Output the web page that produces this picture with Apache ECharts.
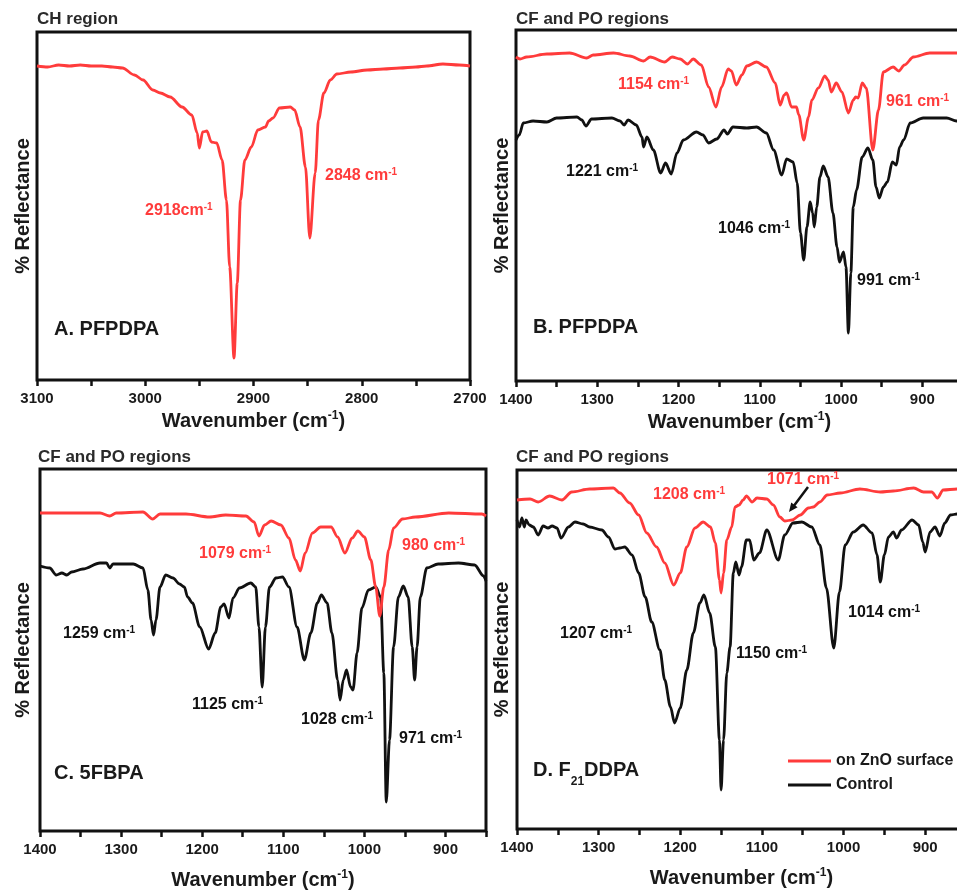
<!DOCTYPE html>
<html>
<head>
<meta charset="utf-8">
<script src="https://cdn.jsdelivr.net/npm/echarts@6/dist/echarts.min.js"></script>
<style>
  html, body { margin: 0; padding: 0; background: #fff; }
  #main { width: 957px; height: 890px; }
</style>
</head>
<body>
<div id="main"></div>
<script>
// spectra (arbitrary reflectance units, higher = more reflectance)

// A. PFPDPA, CH region (on ZnO only)
const aZnOWave = [3100, 3090, 3080, 3070, 3060, 3050, 3040, 3030, 3021, 3010, 3002, 2993, 2986, 2977, 2966, 2957,
  2952, 2950, 2947, 2943, 2939, 2934, 2929, 2925, 2922, 2918, 2915, 2912, 2908, 2902, 2896, 2889,
  2886, 2882, 2876, 2866, 2862, 2857, 2852, 2848, 2843, 2840, 2835, 2829, 2823, 2810, 2795, 2780,
  2765, 2750, 2740, 2725, 2710, 2700];
const aZnO = [314, 313, 315, 314, 315, 314, 314, 313, 312, 305, 300, 290, 287, 283, 273, 265,
  247, 232, 248, 249, 238, 237, 220, 180, 113, 22, 97, 180, 220, 233, 250, 253,
  259, 262, 272, 273, 270, 253, 213, 142, 207, 260, 287, 300, 306, 308, 310, 311,
  312, 313, 314, 316, 315, 314];

// B. PFPDPA, CF and PO regions
const bZnOWave = [1400, 1395, 1387, 1362, 1334, 1313, 1305, 1280, 1260, 1243, 1235, 1217, 1208, 1198, 1189, 1182,
  1172, 1163, 1154, 1147, 1139, 1135, 1129, 1122, 1116, 1104, 1092, 1081, 1075, 1070, 1067, 1061,
  1055, 1052, 1046, 1040, 1036, 1028, 1020, 1016, 1012, 1006, 999, 991, 985, 982, 979, 974,
  969, 961, 954, 948, 936, 929, 922, 911, 891, 858, 850];
const bZnO = [324, 322, 324, 327, 328, 323, 326, 328, 325, 320, 324, 319, 324, 322, 317, 322,
  316, 294, 274, 294, 312, 310, 296, 306, 315, 319, 314, 298, 276, 286, 288, 274,
  274, 266, 241, 264, 281, 293, 305, 301, 289, 298, 289, 268, 281, 284, 283, 298,
  293, 231, 271, 309, 314, 310, 316, 324, 328, 328, 328];
const bCtrlWave = [1400, 1396, 1391, 1379, 1362, 1350, 1325, 1319, 1314, 1307, 1282, 1272, 1267, 1262, 1252, 1245,
  1243, 1239, 1231, 1222, 1216, 1209, 1202, 1194, 1178, 1170, 1163, 1153, 1144, 1140, 1133, 1116,
  1104, 1092, 1083, 1073, 1067, 1059, 1054, 1050, 1046, 1042, 1038, 1035, 1033, 1030, 1026, 1022,
  1016, 1010, 1005, 1002, 997, 994, 991, 988, 985, 981, 974, 967, 961, 957, 953, 948,
  943, 937, 932, 928, 923, 915, 899, 870, 858, 850];
const bCtrl = [241, 246, 258, 260, 259, 263, 264, 261, 255, 262, 263, 260, 256, 261, 256, 244,
  234, 244, 231, 208, 218, 207, 228, 241, 249, 246, 238, 242, 251, 247, 254, 253,
  254, 248, 231, 206, 222, 219, 198, 148, 121, 154, 179, 168, 154, 174, 204, 215,
  204, 168, 134, 119, 129, 114, 48, 108, 174, 191, 224, 233, 221, 194, 183, 194,
  199, 219, 216, 234, 241, 258, 263, 263, 260, 259];

// C. 5FBPA
const cZnOWave = [1400, 1367, 1326, 1314, 1306, 1273, 1261, 1252, 1220, 1191, 1171, 1146, 1136, 1130, 1123, 1115,
  1103, 1093, 1085, 1079, 1073, 1064, 1054, 1041, 1033, 1024, 1015, 1008, 1000, 992, 986, 981,
  976, 970, 964, 953, 937, 896, 855, 850];
const cZnO = [318, 318, 318, 315, 318, 319, 312, 317, 317, 314, 316, 315, 309, 295, 306, 310,
  306, 293, 271, 260, 278, 298, 304, 304, 294, 278, 293, 300, 294, 271, 244, 215,
  244, 281, 303, 312, 314, 318, 317, 315];
const cCtrlWave = [1400, 1388, 1380, 1373, 1367, 1361, 1347, 1326, 1318, 1314, 1310, 1285, 1273, 1267, 1263, 1260,
  1257, 1252, 1245, 1236, 1228, 1222, 1218, 1212, 1203, 1192, 1184, 1177, 1173, 1167, 1162, 1154,
  1140, 1134, 1130, 1126, 1122, 1117, 1109, 1101, 1093, 1083, 1074, 1066, 1058, 1053, 1046, 1040,
  1033, 1030, 1026, 1022, 1017, 1014, 1009, 1003, 995, 986, 980, 976, 973, 969, 964, 958,
  952, 946, 941, 938, 935, 931, 923, 909, 884, 864, 853, 850];
const cCtrl = [265, 263, 256, 258, 256, 259, 262, 268, 268, 263, 267, 267, 263, 241, 211, 196,
  211, 244, 256, 253, 247, 244, 234, 228, 204, 182, 198, 224, 227, 213, 233, 243,
  248, 244, 204, 144, 204, 244, 253, 254, 244, 204, 171, 198, 228, 236, 228, 198,
  151, 131, 151, 161, 144, 141, 178, 223, 241, 244, 234, 158, 29, 91, 184, 234,
  245, 234, 184, 151, 184, 234, 263, 267, 268, 266, 255, 250];

// D. F21DDPA
const dZnOWave = [1400, 1384, 1374, 1360, 1345, 1333, 1311, 1282, 1274, 1262, 1251, 1241, 1229, 1219, 1208, 1200,
  1192, 1182, 1172, 1163, 1157, 1152, 1150, 1147, 1143, 1137, 1133, 1128, 1123, 1119, 1112, 1106,
  1094, 1086, 1078, 1072, 1063, 1053, 1043, 1037, 1029, 1020, 1004, 980, 955, 939, 914, 902,
  892, 885, 878, 861, 850];
const dZnO = [329, 330, 327, 333, 329, 337, 340, 341, 336, 326, 314, 296, 282, 266, 244, 256,
  282, 301, 307, 302, 286, 249, 236, 256, 289, 302, 322, 324, 329, 333, 327, 331,
  330, 324, 312, 308, 309, 314, 321, 322, 327, 334, 336, 340, 337, 338, 341, 337,
  337, 331, 339, 340, 340];
const dCtrlWave = [1400, 1397, 1394, 1391, 1389, 1385, 1380, 1374, 1368, 1362, 1357, 1351, 1346, 1337, 1329, 1319,
  1311, 1296, 1288, 1280, 1274, 1268, 1259, 1251, 1243, 1235, 1225, 1219, 1212, 1207, 1200, 1192,
  1184, 1176, 1171, 1164, 1157, 1152, 1150, 1147, 1143, 1139, 1135, 1132, 1128, 1125, 1119, 1115,
  1110, 1103, 1094, 1080, 1072, 1062, 1051, 1039, 1029, 1021, 1012, 1005, 998, 988, 976, 965,
  959, 955, 950, 945, 939, 935, 929, 916, 908, 903, 900, 894, 888, 882, 876, 869, 861, 850];
const dCtrl = [309, 302, 311, 302, 309, 304, 302, 294, 303, 301, 303, 301, 291, 302, 307, 305,
  302, 299, 292, 280, 281, 282, 274, 256, 232, 207, 179, 149, 122, 106, 121, 159,
  196, 226, 234, 216, 182, 89, 39, 89, 156, 182, 256, 267, 254, 262, 289, 289,
  269, 276, 299, 269, 294, 306, 307, 302, 284, 241, 181, 237, 284, 297, 304, 296,
  274, 247, 274, 292, 297, 291, 299, 309, 304, 287, 277, 297, 302, 293, 306, 314, 315, 315];

const chTicks = [3100, 3000, 2900, 2800, 2700];
const cfTicks = [1400, 1300, 1200, 1100, 1000, 900];
const seriesNames = ['on ZnO surface', 'Control'];

const FONT = '"Liberation Sans", Arial, sans-serif';
const RED = '#ff3b3b';
const INK = '#111';

const pairs = (w, v) => w.map((x, i) => [x, v[i]]);

// layout of the four panels (B and D run past the right edge of the picture)
const panels = [
  {box: {left: 37, top: 32, width: 433, height: 348}, min: 2700, max: 3100, ticks: chTicks, nameGap: 30, yGap: 4},
  {box: {left: 516, top: 30, width: 447, height: 351}, min: 850, max: 1400, ticks: cfTicks, nameGap: 30, yGap: 4},
  {box: {left: 40, top: 469, width: 446, height: 362}, min: 850, max: 1400, ticks: cfTicks, nameGap: 38, yGap: 7},
  {box: {left: 517, top: 470, width: 449, height: 359}, min: 850, max: 1400, ticks: cfTicks, nameGap: 38, yGap: 5}
];

const chart = echarts.init(document.getElementById('main'));

function line(name, color, idx, w, v) {
  return {
    name: name, type: 'line', xAxisIndex: idx, yAxisIndex: idx,
    data: pairs(w, v), showSymbol: false, symbol: 'none',
    smooth: 0.3, smoothMonotone: 'x',
    lineStyle: {color: color, width: 2.8}, itemStyle: {color: color},
    silent: true
  };
}

const richFor = color => ({
  n: {fontSize: 16, fontWeight: 'bold', fontFamily: FONT, fill: color, color: color, lineHeight: 18},
  s: {fontSize: 10, fontWeight: 'bold', fontFamily: FONT, fill: color, color: color, verticalAlign: 'top'}
});

function note(text, color, x, cy) {
  const parts = text.split('^');
  return {
    type: 'text', x: x, y: cy - 9, silent: true,
    style: {
      text: '{n|' + parts[0] + '}' + (parts[1] ? '{s|' + parts[1] + '}' : ''),
      rich: richFor(color), fill: color,
      textAlign: 'left', textVerticalAlign: 'top', verticalAlign: 'top'
    }
  };
}

function panelLabel(text, x, cy) {
  return {
    type: 'text', x: x, y: cy - 10, silent: true,
    style: {
      text: text,
      rich: {
        m: {fontSize: 20, fontWeight: 'bold', fontFamily: FONT, fill: '#1a1a1a', lineHeight: 20, verticalAlign: 'top'},
        sub: {fontSize: 12, fontWeight: 'bold', fontFamily: FONT, fill: '#1a1a1a', lineHeight: 28, verticalAlign: 'bottom'}
      },
      textAlign: 'left', textVerticalAlign: 'top', verticalAlign: 'top'
    }
  };
}

const notes = [
  ['2918cm^-1', RED, 145, 211], ['2848 cm^-1', RED, 325, 176],
  ['1154 cm^-1', RED, 618, 85], ['961 cm^-1', RED, 886, 102],
  ['1221 cm^-1', INK, 566, 172], ['1046 cm^-1', INK, 718, 229], ['991 cm^-1', INK, 857, 281],
  ['1079 cm^-1', RED, 199, 554], ['980 cm^-1', RED, 402, 546],
  ['1259 cm^-1', INK, 63, 634], ['1125 cm^-1', INK, 192, 705], ['1028 cm^-1', INK, 301, 720], ['971 cm^-1', INK, 399, 739],
  ['1208 cm^-1', RED, 653, 495], ['1071 cm^-1', RED, 767, 480],
  ['1207 cm^-1', INK, 560, 634], ['1150 cm^-1', INK, 736, 654], ['1014 cm^-1', INK, 848, 613]
];

const titleStyle = {fontSize: 17, fontWeight: 'bold', color: '#2a2a2a', fontFamily: FONT};
const tickText = {fontSize: 15, fontWeight: 'bold', color: '#1a1a1a', fontFamily: FONT};

const option = {
  backgroundColor: '#fff',
  animation: false,
  textStyle: {fontFamily: FONT},
  title: [
    {text: 'CH region', left: 37, top: 11, padding: 0, textStyle: titleStyle},
    {text: 'CF and PO regions', left: 516, top: 11, padding: 0, textStyle: titleStyle},
    {text: 'CF and PO regions', left: 38, top: 449, padding: 0, textStyle: titleStyle},
    {text: 'CF and PO regions', left: 516, top: 449, padding: 0, textStyle: titleStyle}
  ],
  legend: seriesNames.map((n, i) => ({
    data: [n], left: 788, top: 753 + i * 24, padding: 0, itemGap: 0,
    icon: 'rect', itemWidth: 43, itemHeight: 3, selectedMode: false,
    textStyle: {fontSize: 16, fontWeight: 'bold', color: '#1a1a1a', fontFamily: FONT}
  })),
  grid: panels.map(p => Object.assign({
    show: true, borderColor: INK, borderWidth: 3, backgroundColor: 'transparent',
    containLabel: false, outerBoundsMode: 'none'
  }, p.box)),
  xAxis: panels.map((p, i) => ({
    type: 'value', gridIndex: i, inverse: true, min: p.min, max: p.max, interval: 50,
    axisLine: {show: false}, splitLine: {show: false},
    axisTick: {show: true, inside: false, length: 6, lineStyle: {color: INK, width: 2.5}},
    axisLabel: Object.assign({margin: 11, formatter: v => p.ticks.includes(v) ? String(v) : ''}, tickText),
    name: '{a|Wavenumber (cm}{s|-1}{a|)}', nameLocation: 'middle', nameGap: p.nameGap,
    nameTextStyle: {
      rich: {
        a: {fontSize: 20, fontWeight: 'bold', color: '#1a1a1a', fontFamily: FONT, lineHeight: 22},
        s: {fontSize: 12, fontWeight: 'bold', color: '#1a1a1a', fontFamily: FONT, verticalAlign: 'top'}
      }
    }
  })),
  yAxis: panels.map((p, i) => ({
    type: 'value', gridIndex: i, min: 0, max: p.box.height,
    axisLine: {show: false}, axisTick: {show: false}, axisLabel: {show: false}, splitLine: {show: false},
    name: '% Reflectance', nameLocation: 'middle', nameGap: p.yGap,
    nameTextStyle: {fontSize: 20, fontWeight: 'bold', color: '#1a1a1a', fontFamily: FONT}
  })),
  series: [
    line(seriesNames[0], RED, 0, aZnOWave, aZnO),
    line(seriesNames[1], INK, 1, bCtrlWave, bCtrl),
    line(seriesNames[0], RED, 1, bZnOWave, bZnO),
    line(seriesNames[1], INK, 2, cCtrlWave, cCtrl),
    line(seriesNames[0], RED, 2, cZnOWave, cZnO),
    line(seriesNames[1], INK, 3, dCtrlWave, dCtrl),
    line(seriesNames[0], RED, 3, dZnOWave, dZnO)
  ],
  graphic: [
    ...notes.map(n => note(n[0], n[1], n[2], n[3])),
    panelLabel('{m|A. PFPDPA}', 54, 329),
    panelLabel('{m|B. PFPDPA}', 533, 327),
    panelLabel('{m|C. 5FBPA}', 54, 773),
    panelLabel('{m|D. F}{sub|21}{m|DDPA}', 533, 770),
    {type: 'line', silent: true, shape: {x1: 808, y1: 487, x2: 793, y2: 507}, style: {stroke: INK, lineWidth: 2.5}},
    {type: 'polygon', silent: true, shape: {points: [[789, 512], [797.6, 507.2], [791.2, 502.4]]}, style: {fill: INK}}
  ]
};

chart.setOption(option);
</script>
</body>
</html>
